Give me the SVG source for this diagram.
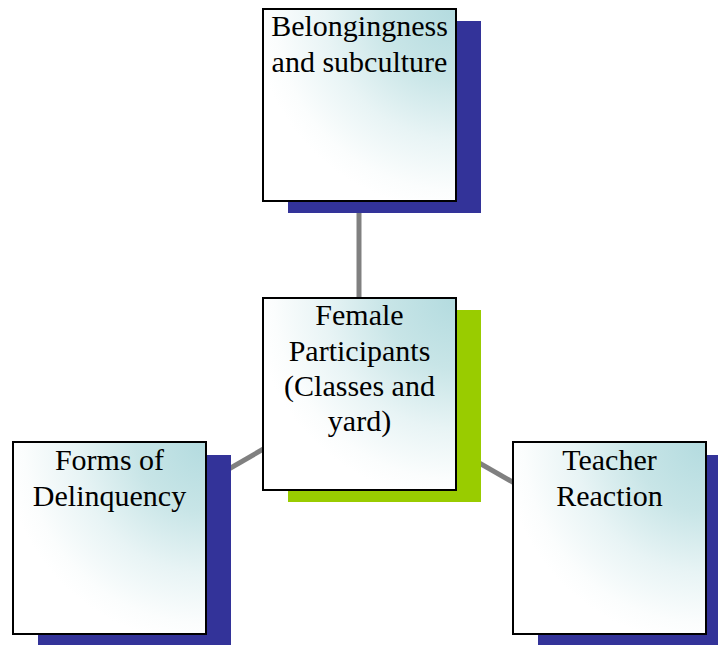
<svg xmlns="http://www.w3.org/2000/svg" width="718" height="645" viewBox="0 0 718 645">
<defs>
<radialGradient id="g" cx="1" cy="0" r="1.05" fx="1" fy="0">
<stop offset="0" stop-color="#b3dbdf"/>
<stop offset="0.35" stop-color="#c8e5e7"/>
<stop offset="0.65" stop-color="#e8f4f5"/>
<stop offset="0.9" stop-color="#fbfdfd"/>
<stop offset="1" stop-color="#ffffff"/>
</radialGradient>
</defs>
<style>
.box{fill:url(#g);stroke:#000;stroke-width:2}
.sh{fill:#333399}
.shg{fill:#99cc00}
.t{font-family:"Liberation Serif","Times New Roman",serif;font-size:30px;fill:#000;text-anchor:middle}
.c{stroke:#808080;stroke-width:5;fill:none}
</style>
<g id="connectors">
<line class="c" x1="359" y1="213" x2="359" y2="297"/>
<line class="c" x1="359" y1="394" x2="109" y2="538"/>
<line class="c" x1="359" y1="394" x2="610" y2="538"/>
</g>
<g id="node-top">
<rect class="sh" x="288" y="21" width="193" height="192"/>
<rect class="box" x="263" y="9" width="193" height="192"/>
<text class="t" x="359.5" y="36">Belongingness</text>
<text class="t" x="359.5" y="72">and subculture</text>
</g>
<g id="node-center">
<rect class="shg" x="288" y="310" width="193" height="192"/>
<rect class="box" x="263" y="298" width="193" height="192"/>
<text class="t" x="359.5" y="325">Female</text>
<text class="t" x="359.5" y="361">Participants</text>
<text class="t" x="359.5" y="396">(Classes and</text>
<text class="t" x="359.5" y="431">yard)</text>
</g>
<g id="node-left">
<rect class="sh" x="38" y="455" width="193" height="192"/>
<rect class="box" x="13" y="442" width="193" height="192"/>
<text class="t" x="109.5" y="470">Forms of</text>
<text class="t" x="109.5" y="506">Delinquency</text>
</g>
<g id="node-right">
<rect class="sh" x="538" y="455" width="193" height="192"/>
<rect class="box" x="513" y="442" width="193" height="192"/>
<text class="t" x="609.5" y="470">Teacher</text>
<text class="t" x="609.5" y="506">Reaction</text>
</g>
</svg>
